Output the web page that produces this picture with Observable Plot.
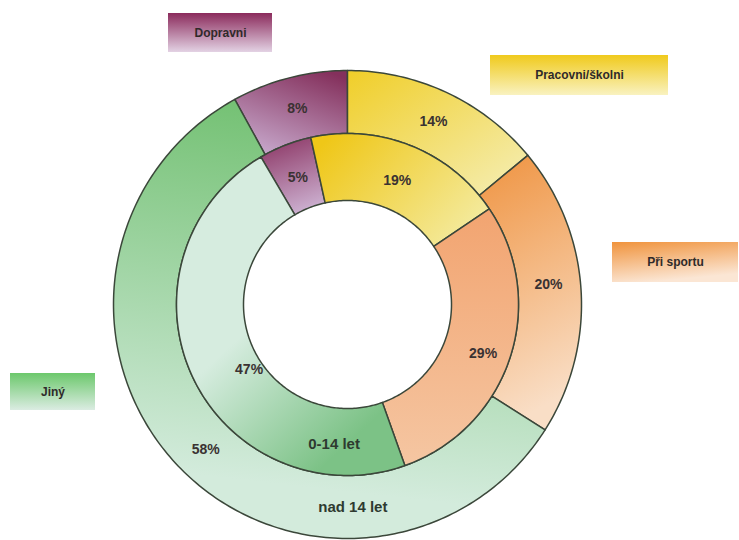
<!DOCTYPE html>
<html>
<head>
<meta charset="utf-8">
<script src="https://cdn.jsdelivr.net/npm/d3@7"></script>
<script src="https://cdn.jsdelivr.net/npm/@observablehq/plot@0.6"></script>
<style>
  html, body { margin: 0; padding: 0; background: #ffffff; }
  #chart { width: 739px; height: 540px; }
</style>
</head>
<body>
<div id="chart"></div>
<script>
// ---- Data ----
const categories = ["Dopravni", "Pracovni/školni", "Při sportu", "Jiný"];
const outerValues = [8, 14, 20, 58];   // nad 14 let
const innerValues = [5, 19, 29, 47];   // 0-14 let
const ringNames = ["0-14 let", "nad 14 let"];

// ---- Layout (pixels / degrees) ----
const W = 739, H = 540;
const cx = 347, cy = 304;
const rings = [
  {name: ringNames[1], values: outerValues, r0: 171, r1: 234, start: -28.8, key: "o"},
  {name: ringNames[0], values: innerValues, r0: 104, r1: 171, start: -30.4, key: "i"}
];
// label placement per ring/slice: [radius, angle offset]
const labelPlace = {
  o: [[202, 0], [202, 0], [202, -2], [203, -2.5]],
  i: [[136, 0], [134, 0], [144, 1.5], [118, -8.5]]
};
const ringLabelPlace = {o: [203, 178.5], i: [140, 185.5]};
const legendBoxes = [
  {x1: 168, x2: 272, y1: 13, y2: 52},
  {x1: 490, x2: 668, y1: 55, y2: 95},
  {x1: 612, x2: 738, y1: 242, y2: 282},
  {x1: 10,  x2: 95,  y1: 373, y2: 410}
];

const gradients = {
  "g-o0": {c: ["#84305c", "#c6a6ca"], d: [0.8, 0, 0.3, 1]},
  "g-i0": {c: ["#8e3a68", "#cdb2d2"], d: [0.3, 0, 0.6, 1]},
  "g-o1": {c: ["#f0ce28", "#f5efb8"], d: [0, 0, 1, 1]},
  "g-i1": {c: ["#efc718", "#f4eca4"], d: [0, 0.2, 1, 0.8]},
  "g-o2": {c: ["#ef9340", "#f9dec6"], d: [0, 0, 0.2, 1]},
  "g-i2": {c: ["#f2a470", "#f5c6a2"], d: [0, 0, 0, 1]},
  "g-o3": {c: ["#6fbf6e", "#d3ebdc"], d: [0.7, 0, 0.6, 0.9]},
  "g-i3": {c: ["#d6ecdf", "#7cc286"], d: [0.3, 0.55, 0.6, 1]},
  "b0": {c: ["#8b2b5c", "#e3d2e4"], d: [0, 0, 0, 1]},
  "b1": {c: ["#f0ca1c", "#f9f2c0"], d: [0, 0, 0, 1]},
  "b2": {c: ["#f0933c", "#fbe6d4"], d: [0, 0, 0.3, 1]},
  "b3": {c: ["#6cc86c", "#dbece2"], d: [0, 0, 0, 1]}
};

const rad = a => a * Math.PI / 180;
const px = (r, a) => r * Math.sin(rad(a));
const py = (r, a) => -r * Math.cos(rad(a));

// build slice polygons and labels from the data
const sliceMarks = [];
const labels = [];
for (const ring of rings) {
  const total = d3.sum(ring.values);
  let a = ring.start;
  ring.values.forEach((v, i) => {
    const a0 = a, a1 = a + v / total * 360;
    a = a1;
    const pts = [];
    const n = Math.max(2, Math.ceil((a1 - a0) / 1));
    for (let k = 0; k <= n; k++) {
      const t = a0 + (a1 - a0) * k / n;
      pts.push({x: px(ring.r1, t), y: py(ring.r1, t)});
    }
    for (let k = n; k >= 0; k--) {
      const t = a0 + (a1 - a0) * k / n;
      pts.push({x: px(ring.r0, t), y: py(ring.r0, t)});
    }
    sliceMarks.push(Plot.line(pts, {
      x: "x", y: "y", curve: "linear-closed",
      fill: `url(#g-${ring.key}${i})`, stroke: "#3b473a", strokeWidth: 1.5
    }));
    const [lr, lo] = labelPlace[ring.key][i];
    const mid = (a0 + a1) / 2 + lo;
    labels.push({x: px(lr, mid), y: py(lr, mid), text: `${v}%`});
  });
}
const ringLabels = rings.map(ring => {
  const [r, a] = ringLabelPlace[ring.key];
  return {x: px(r, a), y: py(r, a), text: ring.name};
});
const legend = categories.map((c, i) => ({
  ...legendBoxes[i], name: c, fill: `url(#b${i})`,
  tx: (legendBoxes[i].x1 + legendBoxes[i].x2) / 2 - cx,
  ty: (legendBoxes[i].y1 + legendBoxes[i].y2) / 2 - cy
}));

const svg = Plot.plot({
  width: W, height: H,
  margin: 0,
  x: {domain: [-cx, W - cx], range: [0, W], axis: null},
  y: {domain: [-cy, H - cy], range: [0, H], axis: null},
  style: {background: "#ffffff", fontFamily: "'Liberation Sans', Arial, sans-serif"},
  marks: [
    ...sliceMarks,
    Plot.text(labels, {x: "x", y: "y", text: "text", fontSize: 14, fontWeight: "bold", fill: "#3a3232"}),
    Plot.text(ringLabels, {x: "x", y: "y", text: "text", fontSize: 15, fontWeight: "bold", fill: "#2e3a30"}),
    Plot.rect(legend, {
      x1: d => d.x1 - cx, x2: d => d.x2 - cx, y1: d => d.y1 - cy, y2: d => d.y2 - cy,
      fill: "fill"
    }),
    Plot.text(legend, {x: "tx", y: "ty", text: "name", fontSize: 12, fontWeight: "bold", fill: "#2f2a2a"})
  ]
});

const defs = Object.entries(gradients).map(([id, g]) =>
  `<linearGradient id="${id}" x1="${g.d[0]}" y1="${g.d[1]}" x2="${g.d[2]}" y2="${g.d[3]}">` +
  `<stop offset="0" stop-color="${g.c[0]}"/><stop offset="1" stop-color="${g.c[1]}"/></linearGradient>`
).join("");
svg.insertAdjacentHTML("afterbegin", `<defs>${defs}</defs>`);
document.getElementById("chart").appendChild(svg);
</script>
</body>
</html>
